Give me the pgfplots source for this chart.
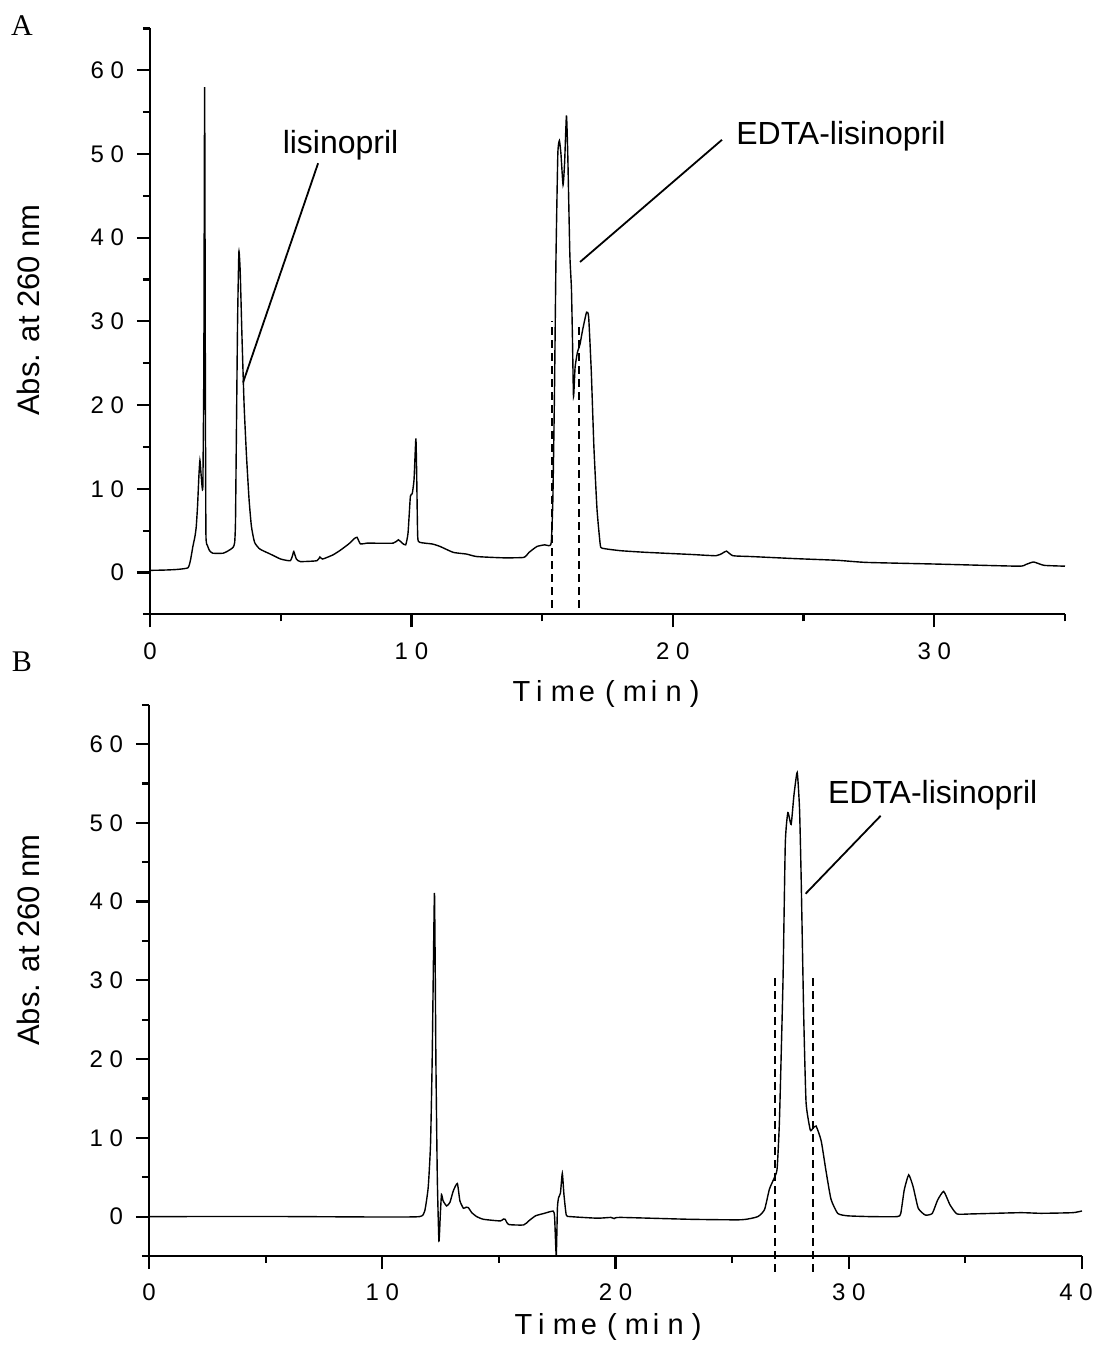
\documentclass[border=0pt]{standalone}
\usepackage{fontspec}
\setmainfont{Liberation Sans}
\newfontfamily\tickfont[LetterSpace=28]{Liberation Sans}
\newfontfamily\seriffont{Liberation Serif}
\usepackage{pgfplots}
\pgfplotsset{compat=1.18}
\pgfplotsset{chrom/.style={
  scale only axis,
  axis x line*=bottom, axis y line*=left,
  axis line style={-, line width=1.2pt},
  tick style={line width=1.1pt, black},
  tick align=outside,
  major tick length=6.5pt, minor tick length=3.5pt,
  ymin=-5, ymax=65,
  ytick={0,10,...,60}, minor ytick={-5,5,...,65},
  /pgf/number format/assume math mode=true,
  tick label style={font=\fontsize{12}{14}\tickfont},
  xticklabel style={yshift=-4pt},
  yticklabel style={xshift=-3pt},
  clip=false,
}}
\begin{document}
\begin{tikzpicture}
\useasboundingbox (0,0) rectangle (549pt,673pt);
% ---------------- A ----------------
\begin{axis}[chrom, at={(75pt,365.85pt)}, anchor=south west,
  width=457.5pt, height=292.9pt, xmin=0, xmax=35,
  xtick={0,10,20,30}, minor xtick={5,15,25,35}]
\addplot[black, line width=0.7pt, smooth, tension=0.3] coordinates {
(0,0.25) (0.5,0.28) (1.0,0.35) (1.45,0.55) (1.55,1.5) (1.64,3.1) (1.72,4.3) (1.77,5.5) (1.82,8) (1.87,11.5) (1.91,13.4) (1.96,11.5) (2.02,10.2) (2.06,25) (2.09,58) (2.12,20) (2.14,4.5) (2.2,3.2) (2.28,2.6) (2.4,2.3) (2.8,2.3) (3.0,2.6) (3.18,3.0) (3.24,3.6) (3.27,6) (3.3,15) (3.35,30) (3.4,38.3) (3.45,36) (3.52,28) (3.6,20) (3.69,14) (3.79,8.7) (3.88,5.5) (4.0,3.6) (4.2,2.8) (4.6,2.2) (5.0,1.6) (5.36,1.4) (5.45,2.0) (5.5,2.5) (5.6,1.6) (5.75,1.3) (6.38,1.4) (6.5,1.85) (6.6,1.6) (7.0,2.1) (7.3,2.7) (7.6,3.4) (7.8,4.0) (7.92,4.2) (8.05,3.4) (8.3,3.5) (9.3,3.5) (9.5,3.9) (9.65,3.5) (9.78,3.3) (9.87,4.7) (9.96,9.1) (10.03,9.4) (10.1,11.1) (10.17,16.0) (10.2,12) (10.24,4.3) (10.32,3.6) (10.8,3.4) (11.1,3.1) (11.6,2.4) (12.1,2.2) (12.5,1.9) (13.5,1.75) (14.3,1.8) (14.5,2.4) (14.8,3.1) (15.1,3.3) (15.25,3.2) (15.35,3.6) (15.41,8.7) (15.47,21) (15.53,37.7) (15.6,50) (15.66,51.6) (15.72,50) (15.8,46.3) (15.86,49) (15.93,54.6) (15.98,50) (16.06,38) (16.12,34) (16.16,28) (16.2,21) (16.26,24.5) (16.35,26.3) (16.45,27.3) (16.55,29) (16.7,31.1) (16.78,30.5) (16.88,24) (16.98,15) (17.1,7.5) (17.22,3.4) (17.29,2.9) (18.0,2.6) (19,2.4) (20.7,2.15) (21.65,2.0) (21.9,2.3) (22.05,2.55) (22.3,2.0) (23,1.9) (24.7,1.65) (26.3,1.45) (27.4,1.2) (30.1,1.0) (33.2,0.75) (33.5,0.95) (33.8,1.25) (34.2,0.85) (35,0.75)
};
\addplot[black, line width=1pt, dash pattern=on 4pt off 2.5pt] coordinates {(15.36,-4.2) (15.36,30.1)};
\addplot[black, line width=1pt, dash pattern=on 4pt off 2.5pt] coordinates {(16.42,-4.2) (16.42,29.9)};
\draw[line width=0.9pt] (axis cs:6.43,48.9) -- (axis cs:3.56,22.7);
\node[font=\fontsize{16}{18}\selectfont, anchor=base] at (axis cs:7.29,50.1) {lisinopril};
\draw[line width=0.9pt] (axis cs:21.88,51.7) -- (axis cs:16.45,37.1);
\node[font=\fontsize{16}{18}\selectfont, anchor=base] at (axis cs:26.43,51.1) {EDTA-lisinopril};
\end{axis}
% ---------------- B ----------------
\begin{axis}[chrom, at={(74.5pt,45pt)}, anchor=south west,
  width=466.5pt, height=275.65pt, xmin=0, xmax=40,
  xtick={0,10,20,30,40}, xticklabels={0,10,20,30,\hspace*{-6pt}40},
  minor xtick={5,15,25,35}]
\addplot[black, line width=0.7pt, smooth, tension=0.3] coordinates {
(0,0) (5,0.02) (9.9,-0.05) (11.6,0) (11.82,0.7) (11.97,3.7) (12.07,9.2) (12.14,19.8) (12.21,36) (12.24,41.1) (12.27,32) (12.3,19.8) (12.36,5) (12.43,-3.1) (12.49,0.3) (12.54,2.8) (12.61,2.0) (12.76,1.36) (12.9,1.8) (13.05,3.3) (13.22,4.2) (13.33,2.0) (13.48,1.06) (13.6,1.2) (13.69,1.14) (13.84,0.5) (14.05,0) (14.34,-0.34) (15.06,-0.55) (15.2,-0.3) (15.27,-0.34) (15.42,-1.0) (16.06,-1.06) (16.28,-0.55) (16.57,0.1) (16.93,0.4) (17.33,0.7) (17.39,-0.1) (17.46,-5) (17.51,1.1) (17.56,2.4) (17.64,3.0) (17.72,5.5) (17.79,2.8) (17.89,0.2) (18.07,0) (19.22,-0.2) (19.8,-0.1) (19.94,-0.25) (20.2,-0.1) (23.2,-0.34) (25.4,-0.4) (26.1,0) (26.39,0.9) (26.6,3.5) (26.82,5.0) (26.93,6.1) (27.03,12.3) (27.18,29.8) (27.28,47.4) (27.39,51.3) (27.53,49.8) (27.65,53.5) (27.79,56.4) (27.89,51.8) (27.96,43) (28.07,25.4) (28.17,14.5) (28.35,11.0) (28.46,11.2) (28.6,11.5) (28.82,9.6) (29.03,5.7) (29.24,2.2) (29.53,0.4) (29.96,0.1) (30.96,0) (32.08,0) (32.23,0.4) (32.38,3.4) (32.57,5.3) (32.76,3.8) (32.98,1.06) (33.28,0.2) (33.58,0.4) (33.81,2.1) (34.07,3.2) (34.34,1.5) (34.64,0.34) (35.24,0.34) (37.35,0.5) (38.25,0.42) (39.6,0.5) (40,0.72)
};
\addplot[black, line width=1pt, dash pattern=on 4pt off 2.5pt] coordinates {(26.82,-7) (26.82,30.3)};
\addplot[black, line width=1pt, dash pattern=on 4pt off 2.5pt] coordinates {(28.46,-7) (28.46,30.3)};
\draw[line width=0.9pt] (axis cs:31.37,50.9) -- (axis cs:28.15,41);
\node[font=\fontsize{16}{18}\selectfont, anchor=base] at (axis cs:33.6,52.4) {EDTA-lisinopril};
\end{axis}
% ---------------- labels ----------------
\node[font=\fontsize{15}{17}\seriffont] at (11pt,660pt) {A};
\node[font=\fontsize{15}{17}\seriffont] at (11pt,342pt) {B};
\node[rotate=90, font=\fontsize{15.5}{17}\selectfont] at (14pt,518pt) {Abs. at 260 nm};
\node[rotate=90, font=\fontsize{15.5}{17}\selectfont] at (14pt,203pt) {Abs. at 260 nm};
\node[font=\fontsize{14.5}{16}\tickfont] at (303pt,326pt) {T\hspace{3pt}im\hspace{2pt}e\hspace{5pt}(m\hspace{2pt}in)};
\node[font=\fontsize{14.5}{16}\tickfont] at (304pt,9.5pt) {T\hspace{3pt}im\hspace{2pt}e\hspace{5pt}(m\hspace{2pt}in)};
\end{tikzpicture}
\end{document}
